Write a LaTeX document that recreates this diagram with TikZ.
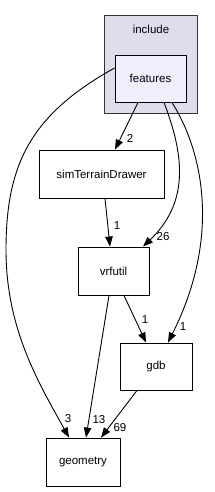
\documentclass[tikz,border=0pt]{standalone}
\usepackage{fontspec}
\setmainfont{Liberation Sans}
\usetikzlibrary{arrows.meta}
\definecolor{clusterfill}{HTML}{DDDDEE}
\definecolor{curfill}{HTML}{EEEEFF}
\definecolor{clusterline}{HTML}{333333}
\begin{document}
\begin{tikzpicture}[x=1pt,y=-1pt,
  every node/.style={font=\fontsize{11.5}{13}\selectfont, inner sep=0pt},
  dirbox/.style={draw=black, line width=0.9pt, fill=white, minimum height=48pt},
  dep/.style={draw=black, line width=0.9pt, -{Triangle[length=10pt,width=7.5pt]}},
  elabel/.style={font=\fontsize{11.5}{13}\selectfont, anchor=center}]
\useasboundingbox (0,0) rectangle (214,492);
\node[draw=clusterline, line width=0.9pt, fill=clusterfill, minimum width=93pt, minimum height=98pt] (incl) at (150.5,64) {};
\node (incltitle) at (151,29) {include};
\node[dirbox, fill=curfill, minimum width=71pt, minimum height=47pt] (features) at (150.5,78.5) {features};
\node[dirbox, minimum width=125pt] (simT) at (101.5,174) {simTerrainDrawer};
\node[dirbox, minimum width=71pt] (vrfutil) at (113.5,271) {vrfutil};
\node[dirbox, minimum width=72pt, minimum height=47pt] (gdb) at (156,366.5) {gdb};
\node[dirbox, minimum width=74pt] (geometry) at (83,462) {geometry};

\draw[dep] ([xshift=-12.5pt]features.south) -- ([xshift=13.5pt]simT.north);
\draw[dep] ([xshift=13.5pt]features.south) .. controls (182,150) and (192,200) .. ([xshift=29.5pt]vrfutil.north);
\draw[dep] ([xshift=21.5pt]features.south) .. controls (202,150) and (222,235) .. ([xshift=12pt]gdb.north);
\draw[dep] ([yshift=10.5pt]features.west) .. controls (30,115) and (6,165) .. (6,250) .. controls (6,330) and (40,385) .. ([xshift=-14pt]geometry.north);
\draw[dep] ([xshift=3.5pt]simT.south) -- ([xshift=-3.5pt]vrfutil.north);
\draw[dep] ([xshift=10.5pt]vrfutil.south) -- ([xshift=-10pt]gdb.north);
\draw[dep] ([xshift=-4.5pt]vrfutil.south) -- ([xshift=3pt]geometry.north);
\draw[dep] ([xshift=-19pt]gdb.south) -- ([xshift=18pt]geometry.north);

\node[elabel] (l1) at (130,138) {2};
\node[elabel] (l2) at (163,237) {26};
\node[elabel] (l3) at (117,226) {1};
\node[elabel] (l4) at (145,320) {1};
\node[elabel] (l5) at (183,327) {1};
\node[elabel] (l6) at (68,419) {3};
\node[elabel] (l7) at (99,420) {13};
\node[elabel] (l8) at (120,428) {69};
\end{tikzpicture}
\end{document}
